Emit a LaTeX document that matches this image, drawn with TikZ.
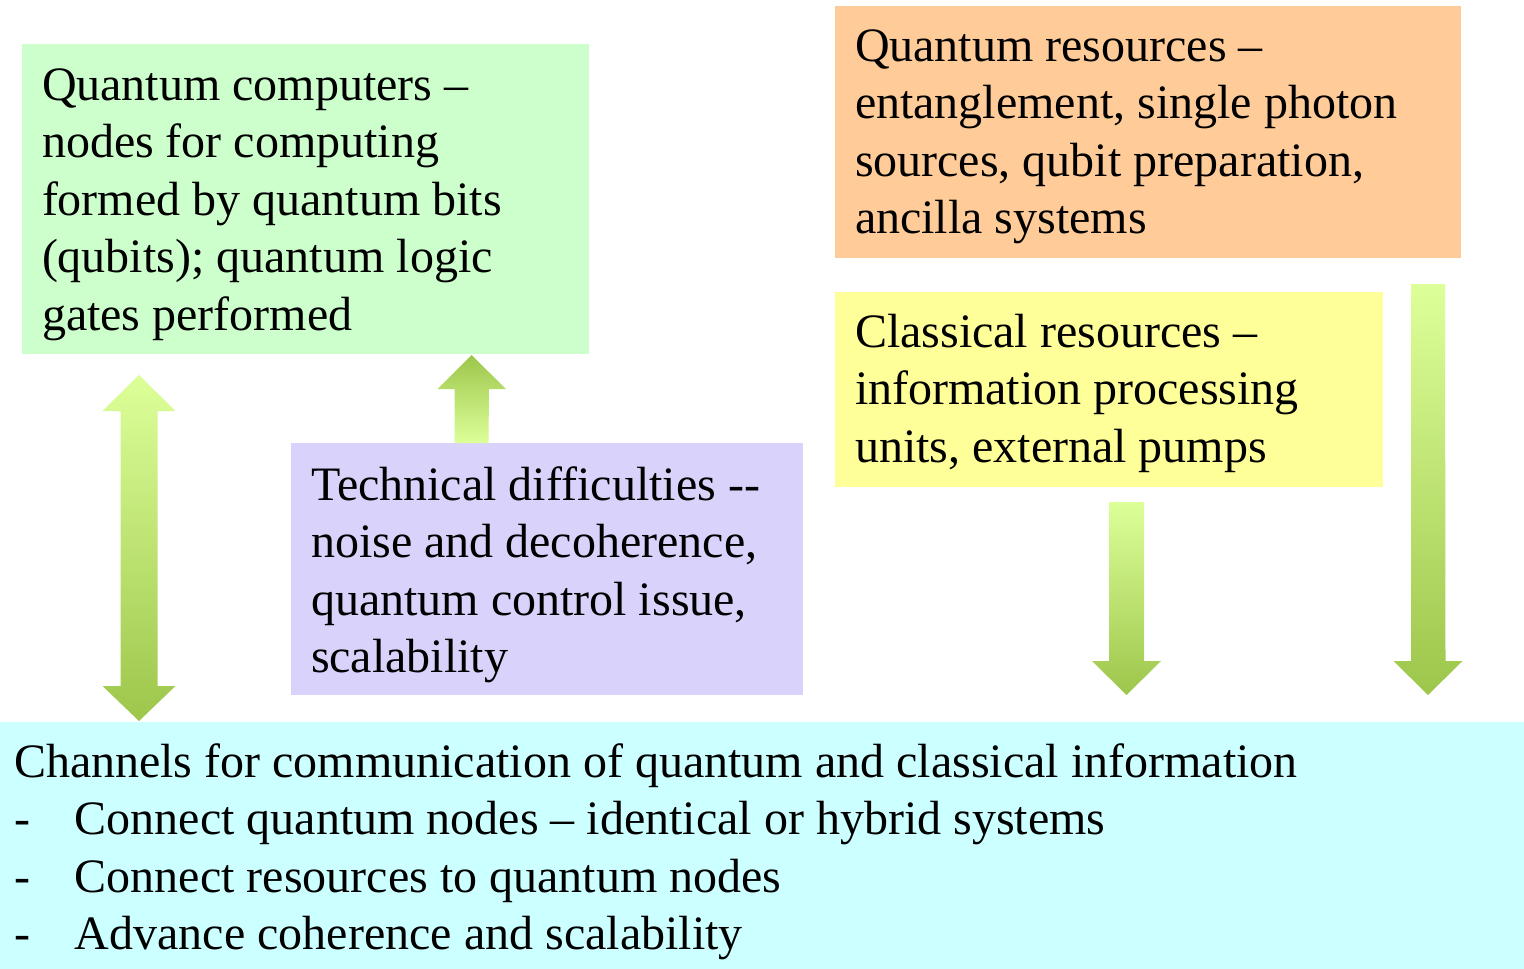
\documentclass[tikz,border=0pt]{standalone}
\usepackage{fontspec}
\setmainfont{Liberation Serif}
\usetikzlibrary{calc}

\definecolor{qcgreen}{HTML}{CCFFCC}
\definecolor{qrorange}{HTML}{FFCC99}
\definecolor{cryellow}{HTML}{FFFF99}
\definecolor{tdpurple}{HTML}{D9D2FA}
\definecolor{chcyan}{HTML}{CCFFFF}
\definecolor{arlight}{HTML}{DDFF99}
\definecolor{ardark}{HTML}{9DC64B}

% vertical block arrows: #1 = tip, #2 = tail end, #3 = shaft half width,
% #4 = head half width, #5 = head length (signed along y)
\newcommand\downblock[5]{%
  (#2) ++(-#3,0) -- ($(#1)+(-#3,-#5)$) -- ($(#1)+(-#4,-#5)$) -- (#1)
  -- ($(#1)+(#4,-#5)$) -- ($(#1)+(#3,-#5)$) -- ($(#2)+(#3,0)$) -- cycle}

\begin{document}
\begin{tikzpicture}[x=1pt,y=-1pt,
  box/.style={draw=none, inner sep=0pt, outer sep=0pt, anchor=north west},
  txt/.style={inner sep=0pt, outer sep=0pt, anchor=base west,
              font=\fontsize{48}{57.5}\selectfont},
  arrowfill/.style={top color=#1, bottom color=#1!0!white},
  lightdown/.style={top color=arlight, bottom color=ardark},
  lightup/.style={top color=ardark, bottom color=arlight}]

\useasboundingbox (0,0) rectangle (1524,969);
\fill[white] (0,0) rectangle (1524,969);

% boxes
\node[box, fill=qcgreen,  minimum width=567pt,  minimum height=310pt] (qc) at (22,44) {};
\node[box, fill=qrorange, minimum width=626pt,  minimum height=252pt] (qr) at (835,6) {};
\node[box, fill=cryellow, minimum width=548pt,  minimum height=195pt] (cr) at (835,292) {};
\node[box, fill=tdpurple, minimum width=512pt,  minimum height=252pt] (td) at (291,443) {};
\node[box, fill=chcyan,   minimum width=1524pt, minimum height=247pt] (ch) at (0,722) {};

% texts
\node[txt] (qctext) at (42,100) {\parbox[t]{545pt}{Quantum computers –\\
nodes for computing\\
formed by quantum bits\\
(qubits); quantum logic\\
gates performed}};

\node[txt] (qrtext) at (855,61) {\parbox[t]{600pt}{Quantum resources –\\
entanglement, single photon\\
sources, qubit preparation,\\
ancilla systems}};

\node[txt] (crtext) at (855,347) {\parbox[t]{520pt}{Classical resources –\\
information processing\\
units, external pumps}};

\node[txt] (tdtext) at (311,500) {\parbox[t]{490pt}{Technical difficulties {-}{-}\\
noise and decoherence,\\
quantum control issue,\\
scalability}};

\node[txt] (chtext) at (14,777) {\parbox[t]{1500pt}{Channels for communication of quantum and classical information\\
\makebox[61pt][l]{-}Connect quantum nodes – identical or hybrid systems\\
\makebox[61pt][l]{-}Connect resources to quantum nodes\\
\makebox[61pt][l]{-}Advance coherence and scalability}};

% arrow end points
\coordinate (a1top) at (139,375);
\coordinate (a1bot) at (139,721);
\coordinate (a2tip) at (471.5,355);
\coordinate (a2tail) at (471.5,443);
\coordinate (a3tail) at (1126.5,502);
\coordinate (a3tip) at (1126.5,695);
\coordinate (a4tail) at (1428,284);
\coordinate (a4tip) at (1428,695);

% double arrow between quantum computers and channels
\shade[lightdown] (a1top) -- ++(36.5,36) -- ++(-18,0) -- ++(0,275) -- ++(18,0)
  -- (a1bot) -- ++(-36.5,-35) -- ++(18,0) -- ++(0,-275) -- ++(-18,0) -- cycle;

% technical difficulties up to quantum computers
\shade[lightup] (a2tip) -- ++(34.5,34) -- ++(-17,0) -- (a2tail -| 488.5,0) -- (a2tail -| 454.5,0)
  -- ++(0,-54) -- ++(-17,0) -- cycle;

% classical resources down to channels
\shade[lightdown] (a3tip) -- ++(34.5,-34) -- ++(-17,0) -- (a3tail -| 1144,0) -- (a3tail -| 1109,0)
  -- ++(0,159) -- ++(-17,0) -- cycle;

% quantum resources down to channels
\shade[lightdown] (a4tip) -- ++(34.5,-34) -- ++(-17,0) -- (a4tail -| 1445,0) -- (a4tail -| 1411,0)
  -- ++(0,377) -- ++(-17.5,0) -- cycle;

\end{tikzpicture}
\end{document}
